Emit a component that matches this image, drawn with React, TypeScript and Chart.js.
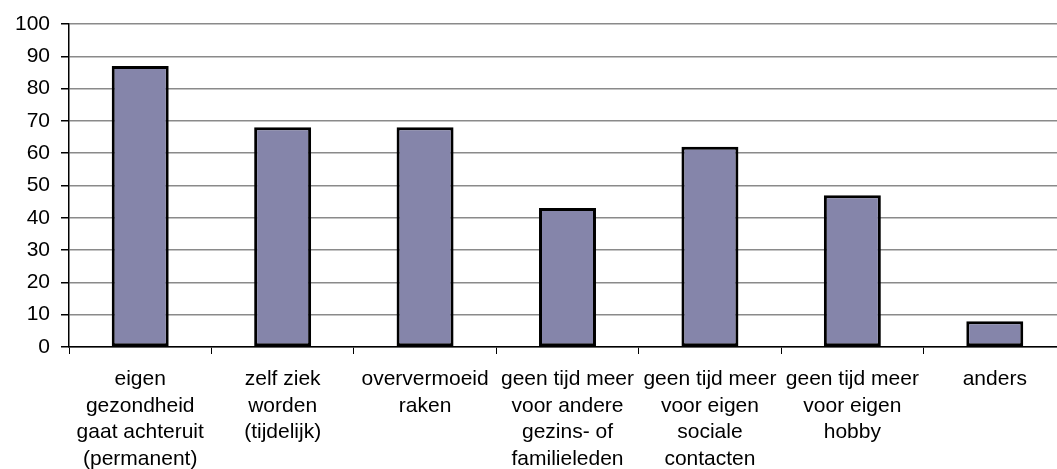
import React, { useEffect, useRef } from "react";
import { Chart, registerables } from "chart.js";

Chart.register(...registerables);

const categories: string[][] = [
  ["eigen", "gezondheid", "gaat achteruit", "(permanent)"],
  ["zelf ziek", "worden", "(tijdelijk)"],
  ["oververmoeid", "raken"],
  ["geen tijd meer", "voor andere", "gezins- of", "familieleden"],
  ["geen tijd meer", "voor eigen", "sociale", "contacten"],
  ["geen tijd meer", "voor eigen", "hobby"],
  ["anders"],
];

const values: number[] = [87, 68, 68, 43, 62, 47, 8];

const yMin = 0;
const yMax = 100;
const yStep = 10;

export default function App() {
  const canvasRef = useRef<HTMLCanvasElement | null>(null);

  useEffect(() => {
    document.documentElement.style.overflow = "hidden";
    document.body.style.overflow = "hidden";
    const canvas = canvasRef.current;
    if (!canvas) return;
    const chart = new Chart(canvas, {
      type: "bar",
      data: {
        labels: categories,
        datasets: [
          {
            data: values,
            backgroundColor: "#8585AA",
            borderColor: "#000000",
            borderWidth: 3,
            borderSkipped: false,
            barPercentage: 0.4,
            categoryPercentage: 1,
          },
        ],
      },
      options: {
        animation: false,
        responsive: true,
        maintainAspectRatio: false,
        layout: { padding: { top: 24, right: 9, bottom: 0, left: 0 } },
        plugins: {
          legend: { display: false },
          tooltip: { enabled: false },
        },
        scales: {
          x: {
            afterFit: (s: any) => {
              s.height = 122;
            },
            grid: {
              offset: true,
              drawOnChartArea: false,
              drawTicks: true,
              tickLength: 7,
              color: "#000000",
              lineWidth: 1,
            },
            border: { display: true, color: "#000000", width: 1.5 },
            ticks: {
              autoSkip: false,
              maxRotation: 0,
              minRotation: 0,
              padding: 12,
              color: "#000000",
              font: { family: "'Liberation Sans', Arial, sans-serif", size: 21, lineHeight: 1.27 },
            },
          },
          y: {
            min: yMin,
            max: yMax,
            afterFit: (s: any) => {
              s.width = 69;
            },
            grid: {
              color: "#8a8a8a",
              lineWidth: 1.5,
              drawTicks: true,
              tickLength: 8,
              tickColor: "#000000",
            },
            border: { display: true, color: "#000000", width: 1.5 },
            ticks: {
              stepSize: yStep,
              padding: 11,
              color: "#000000",
              font: { family: "'Liberation Sans', Arial, sans-serif", size: 21 },
            },
          },
        },
      },
    });
    return () => chart.destroy();
  }, []);

  return (
    <div style={{ position: "fixed", left: 0, top: 0, width: 1075, height: 469 }}>
      <canvas ref={canvasRef} />
    </div>
  );
}
